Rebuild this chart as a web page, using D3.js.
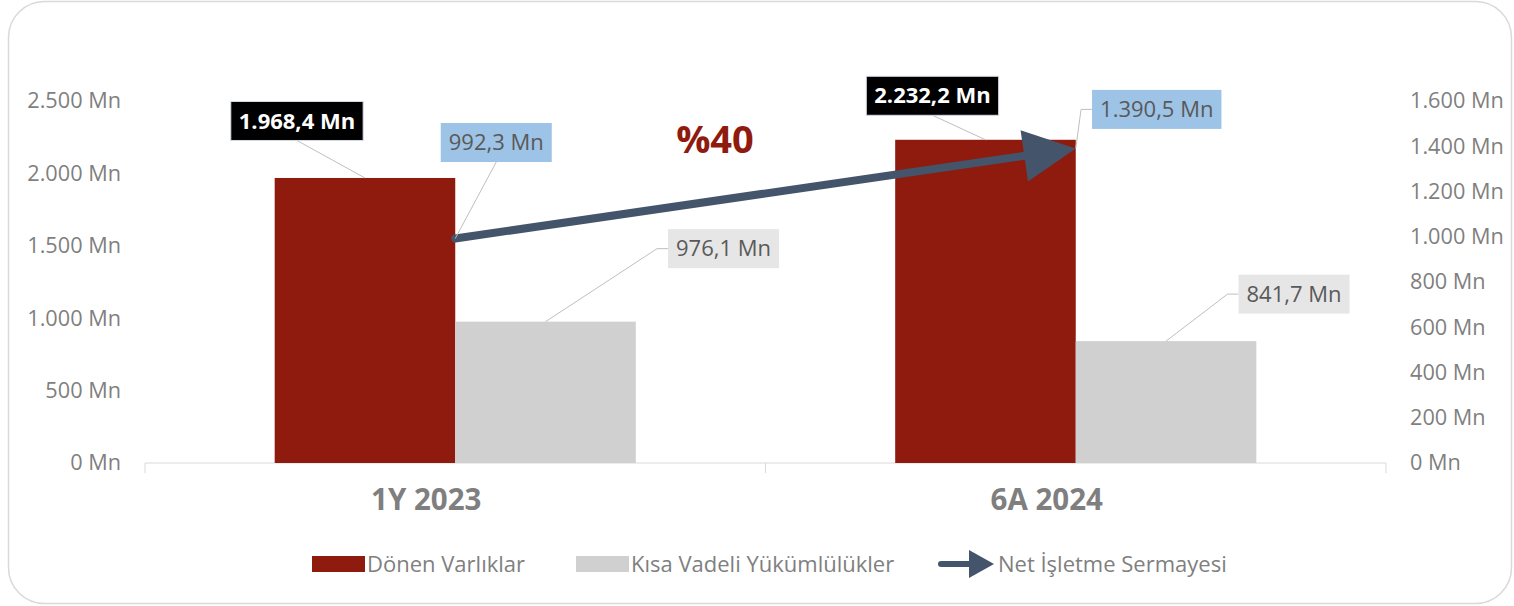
<!DOCTYPE html>
<html>
<head>
<meta charset="utf-8">
<script src="https://cdn.jsdelivr.net/npm/d3@7"></script>
<style>
  body { margin: 0; background: #fff; }
  text { font-family: "Open Sans", sans-serif; }
</style>
</head>
<body>
<div id="chart"></div>
<script>
// data
var categories = ["1Y 2023", "6A 2024"];
var donenVarliklar = [1968.4, 2232.2];
var kisaVadeli = [976.1, 841.7];
var netIsletme = [992.3, 1390.5];
var leftTicks = [0, 500, 1000, 1500, 2000, 2500];
var rightTicks = [0, 200, 400, 600, 800, 1000, 1200, 1400, 1600];
var growthLabel = "%40";
var legendNames = ["Dönen Varlıklar", "Kısa Vadeli Yükümlülükler", "Net İşletme Sermayesi"];

var W = 1514, H = 606;
var plot = { left: 145, right: 1386, top: 101, bottom: 463 };

var tr = d3.formatLocale({ decimal: ",", thousands: ".", grouping: [3], currency: ["", ""] });
var fmtTick = function (d) { return tr.format(",")(d) + " Mn"; };
var fmtVal = function (d) { return tr.format(",.1f")(d) + " Mn"; };

var svg = d3.select("#chart").append("svg")
  .attr("width", W)
  .attr("height", H);

svg.append("rect")
  .attr("x", 8.5).attr("y", 1.5)
  .attr("width", 1503).attr("height", 602)
  .attr("rx", 36).attr("ry", 36)
  .attr("fill", "#fff")
  .attr("stroke", "#D9D9D9")
  .attr("stroke-width", 1.5);

var x = d3.scaleBand()
  .domain(categories)
  .range([plot.left, plot.right]);

var bw = x.bandwidth();
var groupW = bw * 0.582;
var xSub = d3.scaleBand()
  .domain(["donen", "kisa"])
  .range([(bw - groupW) / 2, (bw + groupW) / 2]);

var yL = d3.scaleLinear().domain([0, 2500]).range([plot.bottom, plot.top]);
var yR = d3.scaleLinear().domain([0, 1600]).range([plot.bottom, plot.top]);

// axes
var yAxisL = d3.axisLeft(yL).tickValues(leftTicks).tickFormat(fmtTick).tickSize(0).tickPadding(24);
var yAxisR = d3.axisRight(yR).tickValues(rightTicks).tickFormat(fmtTick).tickSize(0).tickPadding(24);

var gL = svg.append("g")
  .attr("transform", "translate(" + plot.left + ",0)")
  .call(yAxisL);
var gR = svg.append("g")
  .attr("transform", "translate(" + plot.right + ",0)")
  .call(yAxisR);
[gL, gR].forEach(function (g) {
  g.select(".domain").remove();
  g.selectAll("text")
    .attr("fill", "#7F7F7F")
    .style("font-size", "21.7px");
});

var xAxis = d3.axisBottom(x).tickSize(0).tickFormat("");
var gX = svg.append("g")
  .attr("transform", "translate(0," + plot.bottom + ")")
  .call(xAxis);
gX.select(".domain").attr("stroke", "#D9D9D9").attr("d", "M" + plot.left + ",0H" + plot.right);
// category boundary ticks
var bounds = categories.map(function (c) { return x(c); }).concat([x(categories[categories.length - 1]) + bw]);
gX.selectAll(".bnd")
  .data(bounds)
  .enter().append("line")
  .attr("x1", function (d) { return d; })
  .attr("x2", function (d) { return d; })
  .attr("y1", 0).attr("y2", 10)
  .attr("stroke", "#D9D9D9");

svg.selectAll(".cat")
  .data(categories)
  .enter().append("text")
  .attr("class", "cat")
  .attr("x", function (d) { return x(d) + bw / 2 - 29; })
  .attr("y", 510)
  .attr("text-anchor", "middle")
  .attr("fill", "#7F7F7F")
  .style("font-size", "29.5px")
  .style("font-weight", "bold")
  .text(function (d) { return d; });

// bars
var barW = xSub.bandwidth();
svg.selectAll(".bar-donen")
  .data(donenVarliklar)
  .enter().append("rect")
  .attr("class", "bar-donen")
  .attr("x", function (d, i) { return x(categories[i]) + xSub("donen"); })
  .attr("y", function (d) { return yL(d); })
  .attr("width", barW)
  .attr("height", function (d) { return plot.bottom - yL(d); })
  .attr("fill", "#8E1B0E");

svg.selectAll(".bar-kisa")
  .data(kisaVadeli)
  .enter().append("rect")
  .attr("class", "bar-kisa")
  .attr("x", function (d, i) { return x(categories[i]) + xSub("kisa"); })
  .attr("y", function (d) { return yL(d); })
  .attr("width", barW)
  .attr("height", function (d) { return plot.bottom - yL(d); })
  .attr("fill", "#D0D0D0");

// net working capital arrow (right axis)
var pts = netIsletme.map(function (d, i) { return [x(categories[i]) + bw / 2, yR(d)]; });
var p0 = pts[0], p1 = pts[pts.length - 1];
var ddx = p1[0] - p0[0], ddy = p1[1] - p0[1];
var len = Math.sqrt(ddx * ddx + ddy * ddy);
var ux = ddx / len, uy = ddy / len;
var headL = 52, headW = 26;
var base = [p1[0] - ux * headL, p1[1] - uy * headL];
svg.append("line")
  .attr("x1", p0[0]).attr("y1", p0[1])
  .attr("x2", base[0] + ux * 4).attr("y2", base[1] + uy * 4)
  .attr("stroke", "#44546A")
  .attr("stroke-width", 8)
  .attr("stroke-linecap", "round");
svg.append("path")
  .attr("d", "M" + p1[0] + "," + p1[1] +
    "L" + (base[0] - uy * headW) + "," + (base[1] + ux * headW) +
    "L" + (base[0] + uy * headW) + "," + (base[1] - ux * headW) + "Z")
  .attr("fill", "#44546A");

// data labels: offset of label box centre from the point, and where the leader leaves the box
var labels = [];
donenVarliklar.forEach(function (d, i) {
  labels.push({ v: d, px: x(categories[i]) + xSub("donen") + barW / 2, py: yL(d), kind: "donen" });
});
netIsletme.forEach(function (d, i) {
  labels.push({ v: d, px: pts[i][0], py: pts[i][1], kind: "net" });
});
kisaVadeli.forEach(function (d, i) {
  labels.push({ v: d, px: x(categories[i]) + xSub("kisa") + barW / 2, py: yL(d), kind: "kisa" });
});
var offsets = [
  { dx: -68, dy: -57, anchor: "bottom" },
  { dx: -53, dy: -44, anchor: "bottom" },
  { dx: 41, dy: -96, anchor: "bottom" },
  { dx: 81, dy: -39, anchor: "left" },
  { dx: 178, dy: -73, anchor: "left" },
  { dx: 128, dy: -47, anchor: "left" }
];
var boxStyle = {
  donen: { fill: "#000000", stroke: "#D6DCE5", text: "#FFFFFF", weight: "bold" },
  net: { fill: "#9DC3E6", stroke: "none", text: "#595959", weight: "normal" },
  kisa: { fill: "#E7E6E6", stroke: "none", text: "#595959", weight: "normal" }
};

var lg = svg.append("g");
labels.forEach(function (l, i) {
  var o = offsets[i];
  var st = boxStyle[l.kind];
  var cx = l.px + o.dx, cy = l.py + o.dy;
  var t = lg.append("text")
    .attr("x", cx).attr("y", cy)
    .attr("dy", "0.35em")
    .attr("text-anchor", "middle")
    .attr("fill", st.text)
    .style("font-size", "22px")
    .style("font-weight", st.weight)
    .text(fmtVal(l.v));
  var tw = t.node().getComputedTextLength();
  var bwid = tw + 16, bh = 39;
  var leader;
  if (o.anchor === "bottom") {
    leader = "M" + cx + "," + (cy + bh / 2) + "L" + l.px + "," + l.py;
  } else {
    var lx = cx - bwid / 2;
    leader = "M" + lx + "," + cy + "H" + (lx - 11) + "L" + l.px + "," + l.py;
  }
  lg.insert("path", "text")
    .attr("d", leader)
    .attr("fill", "none")
    .attr("stroke", "#BFBFBF")
    .attr("stroke-width", 1);
  lg.insert("rect", "text")
    .attr("x", cx - bwid / 2).attr("y", cy - bh / 2)
    .attr("width", bwid).attr("height", bh)
    .attr("fill", st.fill)
    .attr("stroke", st.stroke);
});

// growth label
svg.append("text")
  .attr("x", 715).attr("y", 153)
  .attr("text-anchor", "middle")
  .attr("fill", "#8E1B0E")
  .style("font-size", "38px")
  .style("font-weight", "bold")
  .text(growthLabel);

// legend
var legY = 564;
var leg = svg.append("g");
leg.append("rect").attr("x", 312).attr("y", legY - 8).attr("width", 53).attr("height", 16).attr("fill", "#8E1B0E");
leg.append("rect").attr("x", 576).attr("y", legY - 8).attr("width", 53).attr("height", 16).attr("fill", "#D0D0D0");
leg.append("line").attr("x1", 941).attr("y1", legY).attr("x2", 972).attr("y2", legY)
  .attr("stroke", "#44546A").attr("stroke-width", 6).attr("stroke-linecap", "round");
leg.append("path").attr("d", "M994," + legY + "L969," + (legY - 14) + "L969," + (legY + 14) + "Z").attr("fill", "#44546A");
var legX = [367, 631, 998];
leg.selectAll(".lt")
  .data(legendNames)
  .enter().append("text")
  .attr("x", function (d, i) { return legX[i]; })
  .attr("y", legY)
  .attr("dy", "0.35em")
  .attr("fill", "#7F7F7F")
  .style("font-size", "22px")
  .text(function (d) { return d; });
</script>
</body>
</html>
